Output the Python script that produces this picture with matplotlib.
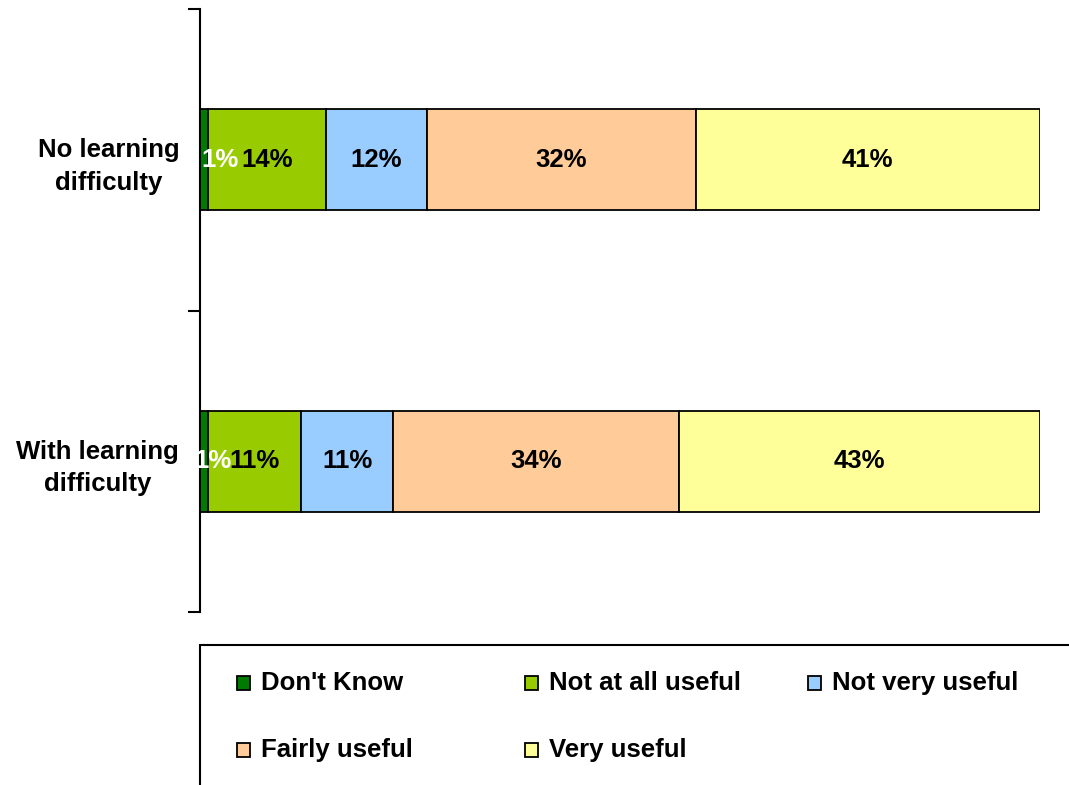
import matplotlib
matplotlib.use("Agg")
import matplotlib.pyplot as plt
from matplotlib.patches import Rectangle

plt.rcParams['font.family'] = ['Liberation Sans', 'DejaVu Sans']

categories = ["No learning\ndifficulty", "With learning\ndifficulty"]
series_names = ["Don't Know", "Not at all useful", "Not very useful", "Fairly useful", "Very useful"]
values = {
    "Don't Know":        [1, 1],
    "Not at all useful": [14, 11],
    "Not very useful":   [12, 11],
    "Fairly useful":     [32, 34],
    "Very useful":       [41, 43],
}
colors = ["#007A00", "#99CC00", "#99CCFF", "#FFCC99", "#FFFF99"]
label_colors = ["white", "black", "black", "black", "black"]
small_label_shift = [0.2, -0.7]  # nudge of the tiny "Don't Know" labels (data units)

W, H = 1069, 785
fig = plt.figure(figsize=(W / 100, H / 100), dpi=100)
ax = fig.add_axes([200 / W, 1 - 612 / H, 840 / W, 603 / H])

fs = 18.5
ypos = list(range(len(categories)))
left = [0.0] * len(categories)
for k, (name, col, lc) in enumerate(zip(series_names, colors, label_colors)):
    vals = values[name]
    ax.barh(ypos, vals, left=left, height=0.335, color=col, edgecolor="black", linewidth=1.3, zorder=2)
    for i, v in enumerate(vals):
        if k == 0:
            ax.text(left[i] + small_label_shift[i], ypos[i], f"{v}%", ha="left", va="center",
                    fontsize=fs, fontweight="bold", color=lc, zorder=3)
        else:
            ax.text(left[i] + v / 2, ypos[i], f"{v}%", ha="center", va="center",
                    fontsize=fs, fontweight="bold", color=lc, zorder=3)
    left = [l + v for l, v in zip(left, vals)]

ax.set_xlim(0, 100)
ax.set_ylim(1.5, -0.5)
ax.set_xticks([])
ax.set_yticks(ypos)
ax.set_yticklabels(categories, fontsize=fs, fontweight="bold", ha="right",
                   multialignment="center", linespacing=1.45)
ax.tick_params(axis="y", which="major", length=0, pad=15)
ax.set_yticks([-0.5, 0.5, 1.5], minor=True)
ax.tick_params(axis="y", which="minor", length=9, width=1.5)
for s in ["top", "right", "bottom"]:
    ax.spines[s].set_visible(False)
ax.spines["left"].set_linewidth(1.5)
ax.spines["left"].set_zorder(1)

# Legend drawn manually (Excel-style equal-width grid)
fig.patches.append(Rectangle((200 / W, 0 - 10 / H), 880 / W, (785 - 645 + 10) / H,
                             transform=fig.transFigure, facecolor="white",
                             edgecolor="black", linewidth=1.5))
col_x = [237, 525, 808]
row_y = [683, 750]
order = [(0, 0), (0, 1), (0, 2), (1, 0), (1, 1)]
for (r, c), name, col in zip(order, series_names, colors):
    x = col_x[c]
    y = row_y[r]
    fig.patches.append(Rectangle((x / W, 1 - (y + 7) / H), 13 / W, 14 / H,
                                 transform=fig.transFigure, facecolor=col,
                                 edgecolor="black", linewidth=1.3))
    fig.text((x + 24) / W, 1 - y / H, name, ha="left", va="center",
             fontsize=fs, fontweight="bold")

fig.savefig("out.png", dpi=100)
